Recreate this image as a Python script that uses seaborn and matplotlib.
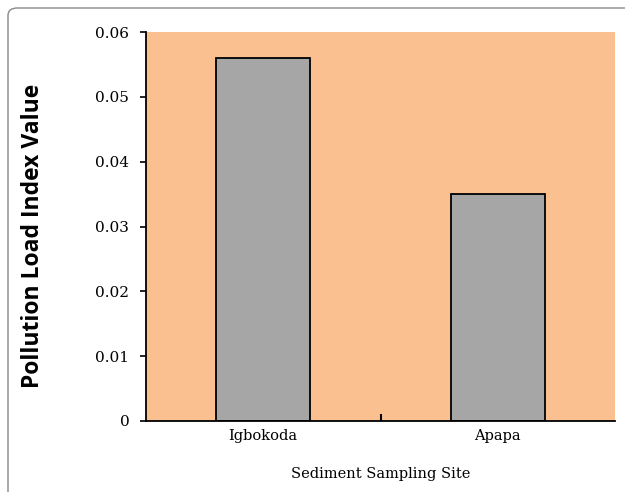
import matplotlib
matplotlib.use("Agg")
import matplotlib.pyplot as plt
import seaborn as sns
import pandas as pd
from matplotlib.patches import FancyBboxPatch

sites = ["Igbokoda", "Apapa"]
pli_values = [0.056, 0.035]
y_ticks = [0, 0.01, 0.02, 0.03, 0.04, 0.05, 0.06]
y_tick_labels = ["0", "0.01", "0.02", "0.03", "0.04", "0.05", "0.06"]

df = pd.DataFrame({"site": sites, "pli": pli_values})

sns.set_theme(style="white")
plt.rcParams["font.family"] = ["DejaVu Serif"]
plt.rcParams["text.color"] = "black"
plt.rcParams["axes.labelcolor"] = "black"
plt.rcParams["xtick.color"] = "black"
plt.rcParams["ytick.color"] = "black"

fig = plt.figure(figsize=(6.25, 4.92), dpi=100)
fig.patch.set_facecolor("white")

frame = FancyBboxPatch((8 / 625, -0.2), 1.2, (1 - 8 / 492) + 0.2,
                       boxstyle="round,pad=0,rounding_size=0.015",
                       transform=fig.transFigure, facecolor="none",
                       edgecolor="#888888", linewidth=1.0, zorder=-10)
fig.patches.append(frame)

ax = fig.add_axes([146 / 625, 1 - 421 / 492, (615 - 146) / 625, (421 - 32) / 492])
ax.set_zorder(1)
ax.set_facecolor("#FAC090")

sns.barplot(data=df, x="site", y="pli", ax=ax, color="#A6A6A6",
            edgecolor="black", linewidth=1.3, width=0.4, saturation=1)

ax.set_xlim(-0.5, 1.5)
ax.set_ylim(0, 0.06)
ax.set_yticks(y_ticks)
ax.set_yticklabels(y_tick_labels, fontsize=11, fontfamily="DejaVu Serif", color="black")
ax.tick_params(axis="y", left=True, direction="out", length=4, width=1.2,
               color="black", pad=8, labelcolor="black")
ax.tick_params(axis="x", which="major", length=0, pad=6, labelsize=10.5, labelcolor="black")
ax.set_xticks([0.5], minor=True)
ax.tick_params(axis="x", which="minor", bottom=True, direction="in", length=5,
               width=1.5, color="black")

for s in ["top", "right"]:
    ax.spines[s].set_visible(False)
for s in ["left", "bottom"]:
    ax.spines[s].set_color("black")
    ax.spines[s].set_linewidth(1.3)

ax.set_xlabel("Sediment Sampling Site", fontsize=10.5, fontfamily="DejaVu Serif",
              labelpad=17, color="black")
ax.set_ylabel("Pollution Load Index Value", fontsize=16.5, fontweight="bold",
              fontfamily="Open Sans", color="black")
ax.yaxis.label.set_va("center")
ax.yaxis.set_label_coords(-0.24, 0.476)

fig.savefig("out.png", dpi=100, facecolor="white")
